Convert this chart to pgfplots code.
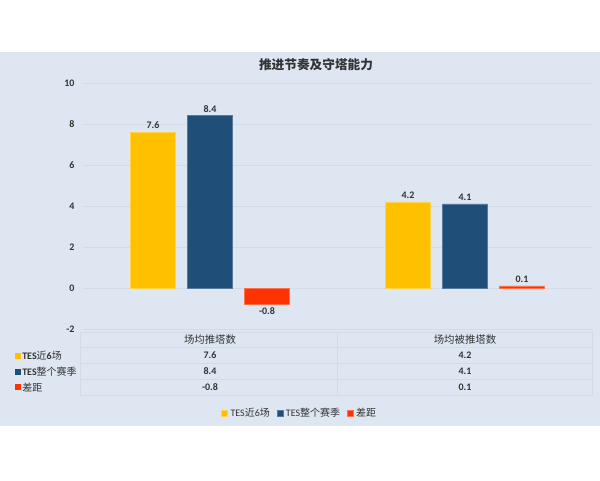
\documentclass[border=0pt]{standalone}
\usepackage{pgfplots}
\pgfplotsset{compat=1.18}
\usepackage{fontspec}
\setmainfont{Carlito}
\newfontfamily\cjk{Noto Sans CJK SC}
\definecolor{bg}{HTML}{DEE7F1}
\definecolor{gridc}{HTML}{D2DBE6}
\definecolor{lab}{HTML}{333333}
\definecolor{cy}{HTML}{FFC000}
\definecolor{cb}{HTML}{1F4E79}
\definecolor{cr}{HTML}{FF3300}
\begin{document}
\begin{tikzpicture}
\fill[white] (0,0) rectangle (450pt,360pt);
\begin{scope}[x=0.75pt,y=-0.75pt,yshift=360pt]
  \fill[bg] (0,52) rectangle (600,426);
\end{scope}
\begin{axis}[
  at={(61.875pt,113.25pt)}, anchor=south west,
  scale only axis, width=382.5pt, height=184.5pt,
  xmin=-0.5, xmax=1.5, ymin=-2, ymax=10,
  ytick={-2,0,...,10}, xtick=\empty,
  ymajorgrids, grid style={color=gridc, line width=0.6pt},
  axis line style={draw=none}, major tick length=0pt,
  ybar=9pt, bar width=33.75pt,
  enlargelimits=false, clip=false,
  /pgf/number format/assume math mode=true,
  yticklabel style={font=\bfseries\fontsize{7.5}{8}\selectfont, text=lab, xshift=-2.5pt},
  nodes near coords,
  nodes near coords style={font=\bfseries\fontsize{7.5}{8}\selectfont, text=lab, inner sep=2.5pt},
  legend image code/.code={\fill[#1] (0pt,-2.25pt) rectangle (4.5pt,2.25pt);},
  legend style={font=\fontsize{7.5}{8}\selectfont, text=lab, draw=none, fill=none,
    legend columns=-1, at={(0.4265,-0.3415)}, anchor=center, inner sep=0pt,
    /tikz/every even column/.append style={column sep=3pt}},
]
\addplot[fill=cy, draw=cy!70!white, line width=0.5pt] coordinates {(0,7.6) (1,4.2)};
\addlegendentry{TES{\cjk 近}6{\cjk 场}}
\addplot[fill=cb, draw=cb!75!white, line width=0.5pt] coordinates {(0,8.4) (1,4.1)};
\addlegendentry{TES{\cjk 整个赛季}}
\addplot[fill=cr, draw=cr!70!white, line width=0.5pt] coordinates {(0,-0.8) (1,0.1)};
\addlegendentry{{\cjk 差距}}
\end{axis}
\begin{scope}[x=0.75pt,y=-0.75pt,yshift=360pt]
  \node[font=\cjk\bfseries\fontsize{9.5}{10}\selectfont, text=lab] at (316,65) {推进节奏及守塔能力};
  % data table
  \foreach \yy in {332,347.5,363,379,395} \draw[gridc, line width=0.6pt] (80,\yy) -- (592.5,\yy);
  \foreach \xx in {80,337.5,592.5} \draw[gridc, line width=0.6pt] (\xx,332) -- (\xx,395);
  \node[font=\cjk\fontsize{7.8}{8}\selectfont, text=lab] at (210,339.5) {场均推塔数};
  \node[font=\cjk\fontsize{7.8}{8}\selectfont, text=lab] at (465,339.5) {场均被推塔数};
  \fill[cy] (14.5,352.5) rectangle (20.5,358.5);
  \fill[cb] (14.5,368.5) rectangle (20.5,374.5);
  \fill[cr] (14.5,384) rectangle (20.5,390);
  \node[anchor=west, inner sep=0pt, font=\fontsize{7.5}{8}\selectfont, text=lab] at (22,355.5) {\textbf{TES}{\cjk 近}\textbf{6}{\cjk 场}};
  \node[anchor=west, inner sep=0pt, font=\fontsize{7.5}{8}\selectfont, text=lab] at (22,371.5) {\textbf{TES}{\cjk 整个赛季}};
  \node[anchor=west, inner sep=0pt, font=\fontsize{7.5}{8}\selectfont, text=lab] at (22,387) {{\cjk 差距}};
  \node[font=\bfseries\fontsize{7.5}{8}\selectfont, text=lab] at (210,355.5) {7.6};
  \node[font=\bfseries\fontsize{7.5}{8}\selectfont, text=lab] at (210,371.5) {8.4};
  \node[font=\bfseries\fontsize{7.5}{8}\selectfont, text=lab] at (210,387) {-0.8};
  \node[font=\bfseries\fontsize{7.5}{8}\selectfont, text=lab] at (465,355.5) {4.2};
  \node[font=\bfseries\fontsize{7.5}{8}\selectfont, text=lab] at (465,371.5) {4.1};
  \node[font=\bfseries\fontsize{7.5}{8}\selectfont, text=lab] at (465,387) {0.1};
\end{scope}
\end{tikzpicture}
\end{document}
